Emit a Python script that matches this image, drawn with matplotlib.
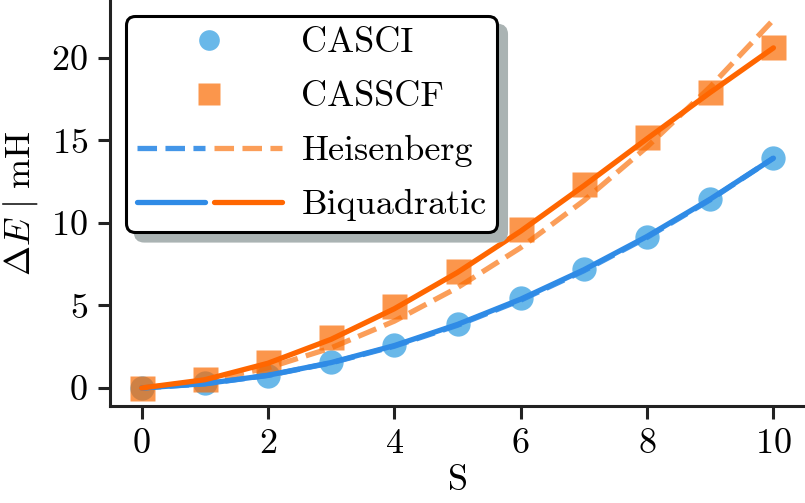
import matplotlib
matplotlib.use("Agg")
import matplotlib.pyplot as plt
from matplotlib.legend_handler import HandlerTuple

plt.rcParams['font.family'] = 'serif'
plt.rcParams['font.serif'] = ['cmr10']
plt.rcParams['mathtext.fontset'] = 'cm'
plt.rcParams['axes.formatter.use_mathtext'] = True
plt.rcParams['axes.unicode_minus'] = False

# ---- data ----
S = [0, 1, 2, 3, 4, 5, 6, 7, 8, 9, 10]
casci = [0.0, 0.3, 0.73, 1.57, 2.6, 3.9, 5.45, 7.2, 9.15, 11.45, 13.94]
casscf = [0.0, 0.55, 1.58, 3.1, 4.95, 7.1, 9.64, 12.36, 15.2, 17.95, 20.67]
heis_casci = [0.0, 0.25, 0.76, 1.52, 2.53, 3.8, 5.32, 7.1, 9.12, 11.4, 13.93]
biq_casci = [0.0, 0.26, 0.77, 1.54, 2.57, 3.85, 5.38, 7.16, 9.18, 11.44, 13.92]
heis_casscf = [0.0, 0.41, 1.22, 2.43, 4.05, 6.08, 8.5, 11.35, 14.6, 18.24, 22.3]
biq_casscf = [0.0, 0.5, 1.5, 2.95, 4.8, 7.0, 9.5, 12.25, 15.1, 17.9, 20.6]
x_ticks = [0, 2, 4, 6, 8, 10]
y_ticks = [0, 5, 10, 15, 20]

BLUE = '#2f8be6'
ORANGE = '#ff6600'
MBLUE = '#2a9ae0'
MORANGE = '#fa6a00'

fig = plt.figure(figsize=(8.05, 5.03), dpi=100)
ax = fig.add_axes([110/805, 97/503, 695/805, 406/503])

fs = 26
m1, = ax.plot(S, casci, 'o', ms=17.5, color=MBLUE, alpha=0.7, mec='none', zorder=2)
m2, = ax.plot(S, casscf, 's', ms=18, color=MORANGE, alpha=0.7, mec='none', zorder=2)
h1, = ax.plot(S, heis_casci, '--', lw=3.8, color=BLUE, alpha=0.9, zorder=3)
h2, = ax.plot(S, heis_casscf, '--', lw=3.8, color=MORANGE, alpha=0.65, zorder=3)
b1, = ax.plot(S, biq_casci, '-', lw=3.8, color=BLUE, solid_capstyle='round', zorder=4)
b2, = ax.plot(S, biq_casscf, '-', lw=3.8, color=ORANGE, solid_capstyle='round', zorder=4)

ax.set_xlim(-0.5, 10.5)
ax.set_ylim(-1.09, 23.5)
ax.set_xticks(x_ticks)
ax.set_yticks(y_ticks)
ax.spines['top'].set_visible(False)
ax.spines['right'].set_visible(False)
for sp in ['left', 'bottom']:
    ax.spines[sp].set_linewidth(2.2)
    ax.spines[sp].set_color('#222222')
ax.tick_params(axis='both', which='major', length=9, width=2.2, color='#222222',
               labelsize=fs, pad=7)

ax.set_xlabel('S', fontsize=fs, labelpad=4)
ax.set_ylabel(r'$\Delta E\ |\ \mathrm{mH}$', fontsize=fs, labelpad=8)

leg = ax.legend([m1, m2, (h1, h2), (b1, b2)],
                ['CASCI', 'CASSCF', 'Heisenberg', 'Biquadratic'],
                handler_map={tuple: HandlerTuple(ndivide=None, pad=0.25)},
                loc='upper left', fontsize=fs, handlelength=4.0,
                handletextpad=0.55, borderpad=0.3, labelspacing=0.6,
                borderaxespad=0.45, numpoints=1, markerscale=0.85,
                fancybox=True, framealpha=1,
                shadow={'ox': 6.5, 'oy': -6.5, 'color': '#aab3b3', 'alpha': 1})
frame = leg.get_frame()
frame.set_edgecolor('black')
frame.set_linewidth(2.2)
frame.set_boxstyle('round,pad=0,rounding_size=0.25')

fig.savefig('out.png', dpi=100)
